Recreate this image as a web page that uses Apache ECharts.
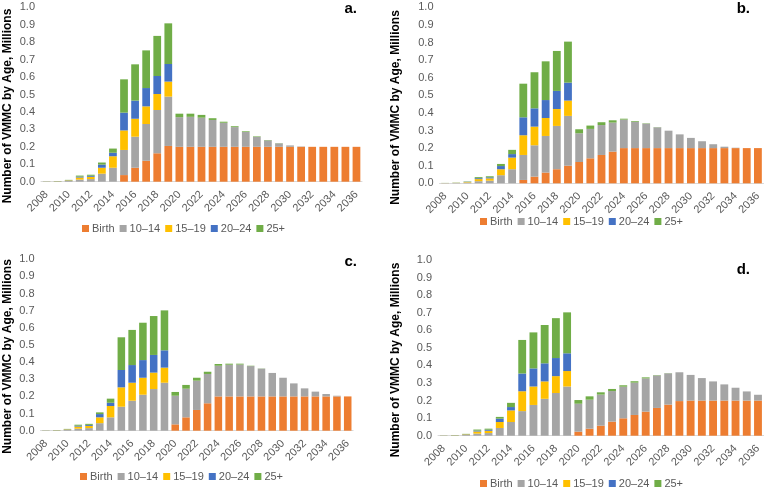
<!DOCTYPE html>
<html>
<head>
<meta charset="utf-8">
<script src="https://cdn.jsdelivr.net/npm/echarts@6/dist/echarts.min.js"></script>
<style>
html,body{margin:0;padding:0;background:#fff;}
#chart{width:766px;height:491px;}
</style>
</head>
<body>
<div id="chart"></div>
<script>
const years = ['2008','2009','2010','2011','2012','2013','2014','2015','2016','2017','2018','2019','2020','2021','2022','2023','2024','2025','2026','2027','2028','2029','2030','2031','2032','2033','2034','2035','2036'];
const seriesNames = ['Birth', '10–14', '15–19', '20–24', '25+'];
const panelLabels = ['a.', 'b.', 'c.', 'd.'];
const yTicks = [0, 0.1, 0.2, 0.3, 0.4, 0.5, 0.6, 0.7, 0.8, 0.9, 1.0];

// Panel a
const aBirth = [0,0,0,0,0,0,0,0.038,0.08,0.12,0.163,0.205,0.2,0.2,0.2,0.2,0.2,0.2,0.2,0.2,0.2,0.2,0.2,0.2,0.2,0.2,0.2,0.2,0.2];
const a1014  = [0.001,0.0015,0.004,0.012,0.015,0.046,0.08,0.144,0.178,0.211,0.248,0.283,0.17,0.172,0.167,0.154,0.138,0.113,0.085,0.057,0.037,0.02,0.008,0.002,0,0,0,0,0];
const a1519  = [0.0005,0.001,0.003,0.012,0.013,0.034,0.066,0.112,0.103,0.101,0.092,0.086,0,0,0,0,0,0,0,0,0,0,0,0,0,0,0,0,0];
const a2024  = [0.0003,0.0005,0.0015,0.005,0.006,0.018,0.02,0.102,0.104,0.105,0.103,0.101,0,0,0,0,0,0,0,0,0,0,0,0,0,0,0,0,0];
const a25    = [0.0005,0.001,0.002,0.006,0.006,0.012,0.024,0.191,0.208,0.216,0.23,0.233,0.02,0.018,0.016,0.01,0.006,0.005,0.004,0.003,0.002,0.001,0,0,0,0,0,0,0];

// Panel b
const bBirth = [0,0,0,0,0,0,0,0.019,0.038,0.061,0.08,0.1,0.121,0.142,0.161,0.18,0.2,0.2,0.2,0.2,0.2,0.2,0.2,0.2,0.2,0.2,0.2,0.2,0.2];
const b1014  = [0.001,0.0015,0.004,0.012,0.015,0.046,0.08,0.142,0.178,0.208,0.246,0.283,0.163,0.167,0.17,0.165,0.162,0.15,0.139,0.118,0.099,0.078,0.058,0.039,0.022,0.008,0.002,0,0];
const b1519  = [0.0005,0.001,0.003,0.012,0.013,0.034,0.066,0.112,0.106,0.102,0.096,0.087,0,0,0,0,0,0,0,0,0,0,0,0,0,0,0,0,0];
const b2024  = [0.0003,0.0005,0.0015,0.005,0.006,0.018,0.02,0.102,0.104,0.102,0.103,0.102,0,0,0,0,0,0,0,0,0,0,0,0,0,0,0,0,0];
const b25    = [0.0005,0.001,0.002,0.006,0.006,0.012,0.024,0.191,0.205,0.22,0.227,0.233,0.023,0.019,0.016,0.013,0.005,0.004,0.002,0.001,0,0,0,0,0,0,0,0,0];

// Panel c
const cBirth = [0,0,0,0,0,0,0,0,0,0,0,0,0.037,0.078,0.121,0.16,0.2,0.2,0.2,0.2,0.2,0.2,0.2,0.2,0.2,0.2,0.2,0.2,0.2];
const c1014  = [0.001,0.0015,0.004,0.012,0.015,0.044,0.078,0.14,0.175,0.21,0.243,0.28,0.167,0.167,0.171,0.171,0.179,0.185,0.186,0.177,0.162,0.137,0.109,0.076,0.047,0.028,0.014,0.004,0];
const c1519  = [0.0005,0.001,0.003,0.012,0.013,0.034,0.066,0.113,0.105,0.099,0.096,0.088,0,0,0,0,0,0,0,0,0,0,0,0,0,0,0,0,0];
const c2024  = [0.0003,0.0005,0.0015,0.005,0.006,0.019,0.019,0.101,0.103,0.103,0.103,0.101,0,0,0,0,0,0,0,0,0,0,0,0,0,0,0,0,0];
const c25    = [0.0005,0.001,0.002,0.006,0.006,0.01,0.024,0.191,0.205,0.218,0.227,0.233,0.022,0.022,0.017,0.013,0.01,0.006,0.005,0.002,0.001,0,0,0,0,0,0,0,0];

// Panel d
const dBirth = [0,0,0,0,0,0,0,0,0,0,0,0,0.023,0.04,0.057,0.08,0.099,0.118,0.137,0.158,0.177,0.197,0.2,0.2,0.2,0.2,0.2,0.2,0.2];
const d1014  = [0.001,0.0015,0.004,0.012,0.015,0.044,0.078,0.14,0.175,0.21,0.243,0.28,0.159,0.165,0.177,0.174,0.18,0.184,0.189,0.185,0.178,0.164,0.146,0.128,0.109,0.092,0.073,0.052,0.033];
const d1519  = [0.0005,0.001,0.003,0.012,0.013,0.034,0.066,0.113,0.105,0.099,0.096,0.088,0,0,0,0,0,0,0,0,0,0,0,0,0,0,0,0,0];
const d2024  = [0.0003,0.0005,0.0015,0.005,0.006,0.019,0.019,0.101,0.103,0.103,0.103,0.101,0,0,0,0,0,0,0,0,0,0,0,0,0,0,0,0,0];
const d25    = [0.0005,0.001,0.002,0.006,0.006,0.01,0.024,0.191,0.205,0.218,0.227,0.233,0.021,0.019,0.013,0.012,0.008,0.008,0.006,0.002,0.001,0,0,0,0,0,0,0,0];

const panelData = [
  [aBirth, a1014, a1519, a2024, a25],
  [bBirth, b1014, b1519, b2024, b25],
  [cBirth, c1014, c1519, c2024, c25],
  [dBirth, d1014, d1519, d2024, d25]
];

const colors = ['#ED7D31', '#A5A5A5', '#FFC000', '#4472C4', '#70AD47'];
const FONT = '"Liberation Sans", Arial, sans-serif';
const TXT = '#595959';

// layout (pixels)
const grids = [
  {left: 41, top: 7.3, width: 321, height: 174.4},
  {left: 439.5, top: 7.3, width: 324, height: 176},
  {left: 40.5, top: 259.3, width: 312.6, height: 171.4},
  {left: 438, top: 260, width: 325.6, height: 175.7}
];
const legendPos = [
  {left: 82, top: 223},
  {left: 480, top: 216},
  {left: 80, top: 471},
  {left: 480, top: 478}
];
const yTitlePos = [[8, 106], [396, 107.5], [8, 356.5], [396, 360]];
const labelPos = [[357, 9], [750, 9], [357, 262], [750, 270]];

const xAxis = [], yAxis = [], series = [], legend = [], graphic = [];
grids.forEach((g, i) => {
  xAxis.push({
    type: 'category', gridIndex: i, data: years,
    axisLine: {lineStyle: {color: '#D9D9D9', width: 1}},
    axisTick: {show: false},
    axisLabel: {interval: 1, rotate: 45, margin: 11, color: TXT, fontSize: 11, fontFamily: FONT}
  });
  yAxis.push({
    type: 'value', gridIndex: i, min: 0, max: 1, interval: 0.1,
    axisLine: {show: false}, axisTick: {show: false},
    splitLine: {show: false},
    axisLabel: {color: TXT, fontSize: 11, fontFamily: FONT, margin: 6,
      formatter: v => (yTicks.find(t => Math.abs(t - v) < 1e-6) ?? v).toFixed(1)}
  });
  seriesNames.forEach((name, k) => {
    series.push({
      name: name, type: 'bar', stack: 'p' + i,
      xAxisIndex: i, yAxisIndex: i,
      data: panelData[i][k],
      barCategoryGap: '30%',
      itemStyle: {color: colors[k]},
      emphasis: {disabled: true}
    });
  });
  legend.push({
    data: seriesNames, left: legendPos[i].left, top: legendPos[i].top,
    padding: 0,
    orient: 'horizontal', icon: 'rect', itemWidth: 7, itemHeight: 7, itemGap: 5,
    textStyle: {color: TXT, fontSize: 11, fontFamily: FONT, padding: [0, 0, 0, -2]},
    selectedMode: false
  });
  graphic.push({
    type: 'text', x: yTitlePos[i][0], y: yTitlePos[i][1], rotation: Math.PI / 2,
    style: {text: 'Number of VMMC by Age, Millions', font: 'bold 12px ' + FONT,
      fill: '#000', align: 'center', verticalAlign: 'middle'}
  });
  graphic.push({
    type: 'text', x: labelPos[i][0], y: labelPos[i][1],
    style: {text: panelLabels[i], font: 'bold 15px ' + FONT, fill: '#000',
      align: 'right', verticalAlign: 'middle'}
  });
});

const chart = echarts.init(document.getElementById('chart'), null, {renderer: 'canvas'});
chart.setOption({
  animation: false,
  backgroundColor: '#fff',
  grid: grids.map(g => Object.assign({containLabel: false}, g)),
  xAxis, yAxis, series, legend, graphic
});
</script>
</body>
</html>
